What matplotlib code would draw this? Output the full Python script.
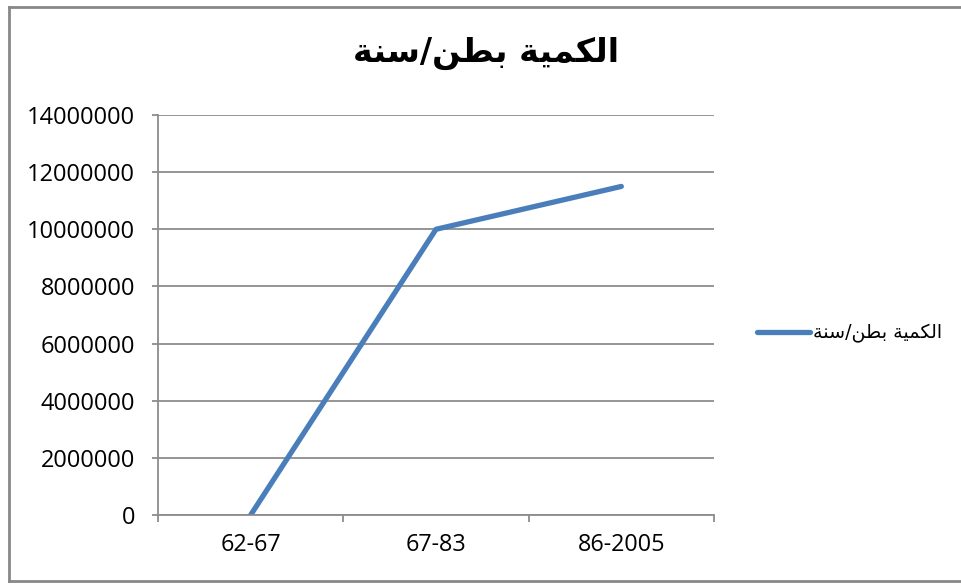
import matplotlib.pyplot as plt
from matplotlib.lines import Line2D

# periods and yearly quantity (ton/year)
periods = ['62-67', '67-83', '86-2005']
tons = [0, 10000000, 11500000]
yticks = list(range(0, 14000001, 2000000))

# "الكمية بطن/سنة" written with presentation forms, left-to-right visual order
series_name = '\uFE94\uFEE8\uFEB3/\uFEE6\uFEC4\uFE91 \uFE94\uFEF4\uFEE4\uFEDC\uFEDF\uFE8D'

grid_col = '#8c8c8c'
blue = '#4a7ebb'

fig = plt.figure(figsize=(9.62, 5.86), dpi=100)
ax = fig.add_axes([158 / 962, 1 - 515 / 586, (714 - 158) / 962, 400 / 586])

x = range(len(periods))
ax.plot(x, tons, color=blue, linewidth=3.8, solid_capstyle='round', solid_joinstyle='round')

ax.set_xlim(-0.5, len(periods) - 0.5)
ax.set_ylim(0, 14000000)
ax.set_yticks(yticks)
ax.set_yticklabels([str(v) for v in yticks], fontfamily='Open Sans', fontsize=17)
ax.set_xticks(x)
ax.set_xticklabels(periods, fontfamily='Open Sans', fontsize=16.8)
ax.set_xticks([-0.5, 0.5, 1.5, 2.5], minor=True)

ax.grid(axis='y', color=grid_col, linewidth=1.3)
ax.tick_params(axis='y', length=4.5, width=1.3, color=grid_col, pad=12)
ax.tick_params(axis='x', which='major', length=0, pad=13)
ax.tick_params(axis='x', which='minor', length=5, width=1.3, color=grid_col)
for side in ['top', 'right']:
    ax.spines[side].set_visible(False)
for side in ['left', 'bottom']:
    ax.spines[side].set_color(grid_col)
    ax.spines[side].set_linewidth(1.3)

fig.text(486 / 962, 1 - 53 / 586, series_name, ha='center', va='center',
         fontfamily='DejaVu Sans', fontweight='bold', fontsize=24)

leg_handle = Line2D([], [], color=blue, linewidth=3.8, solid_capstyle='round')
leg = fig.legend([leg_handle], [series_name], loc='center left',
                 bbox_to_anchor=(740 / 962, 1 - 333 / 586), frameon=False,
                 handlelength=2.8, handletextpad=0.15,
                 prop={'family': 'DejaVu Sans', 'size': 13.7})

# chart area border
fig.add_artist(Line2D([8.5 / 962, 8.5 / 962], [1 - 581 / 586, 1 - 7 / 586],
                      color='#888888', linewidth=2, transform=fig.transFigure))
fig.add_artist(Line2D([8.5 / 962, 1.01], [1 - 7 / 586, 1 - 7 / 586],
                      color='#888888', linewidth=2, transform=fig.transFigure))
fig.add_artist(Line2D([8.5 / 962, 1.01], [1 - 581 / 586, 1 - 581 / 586],
                      color='#888888', linewidth=2, transform=fig.transFigure))

fig.savefig('out.png', dpi=100)
